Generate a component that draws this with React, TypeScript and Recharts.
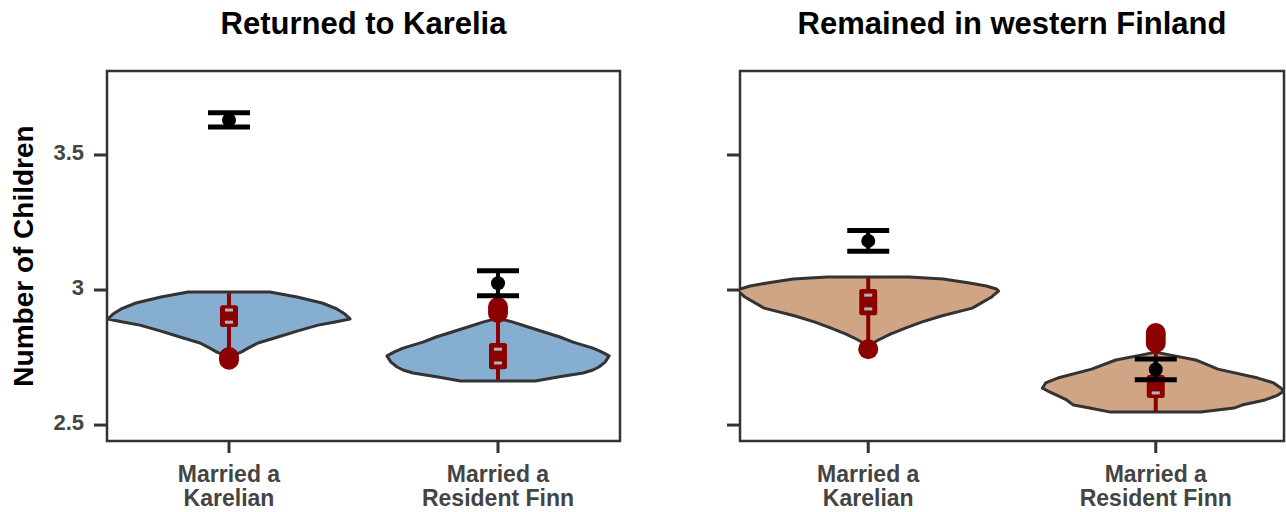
import React from 'react';
import { ComposedChart, Scatter, XAxis, YAxis, ReferenceArea } from 'recharts';

// ---------- data ----------
const categoryLabels: string[][] = [
  ['Married a', 'Karelian'],
  ['Married a', 'Resident Finn'],
];
const categoryPositions = [1, 2];
const yTicks = [2.5, 3, 3.5];
const yDomain: [number, number] = [2.441, 3.811];
const panelTitles = ['Returned to Karelia', 'Remained in western Finland'];
const yAxisTitle = 'Number of Children';

// violin outlines: [number of children, left half-width, right half-width (optional)] in category units
type Profile = number[][];
const violinReturnedKarelian: Profile = [
  [2.993, 0.152], [2.974, 0.253], [2.952, 0.346], [2.930, 0.401], [2.911, 0.431],
  [2.893, 0.45], [2.881, 0.39], [2.870, 0.331], [2.848, 0.253], [2.826, 0.182],
  [2.804, 0.108], [2.785, 0.071], [2.770, 0.045], [2.752, 0],
];
const violinReturnedFinn: Profile = [
  [2.896, 0], [2.881, 0.056], [2.863, 0.112], [2.826, 0.23], [2.807, 0.279],
  [2.785, 0.353], [2.770, 0.387], [2.756, 0.413], [2.733, 0.398], [2.715, 0.375],
  [2.704, 0.353], [2.693, 0.316], [2.678, 0.223], [2.663, 0.139],
];
const violinRemainedKarelian: Profile = [
  [3.048, 0.143], [3.041, 0.261], [3.026, 0.352], [3.015, 0.411], [3.004, 0.446],
  [2.996, 0.453], [2.981, 0.436], [2.974, 0.429], [2.933, 0.362], [2.904, 0.254],
  [2.881, 0.185], [2.859, 0.129], [2.837, 0.077], [2.815, 0.035], [2.793, 0],
];
const violinRemainedFinn: Profile = [
  [2.770, 0, 0], [2.759, 0.052, 0.052], [2.741, 0.139, 0.139], [2.707, 0.223, 0.216],
  [2.674, 0.341, 0.355], [2.656, 0.383, 0.41], [2.637, 0.394, 0.435], [2.626, 0.375, 0.446],
  [2.611, 0.345, 0.425], [2.593, 0.31, 0.38], [2.574, 0.286, 0.3], [2.563, 0.23, 0.272],
  [2.548, 0.157, 0.157],
];

// black: mean and standard error
const returnedMeans = [3.63, 3.025];
const returnedSE = [0.026, 0.046];
const remainedMeans = [3.182, 2.706];
const remainedSE = [0.038, 0.0385];

// red: whisker range, box range, box marks, points
const returnedWhiskers = [[2.75, 2.988], [2.667, 2.93]];
const returnedBoxes = [[2.863, 2.944], [2.707, 2.804]];
const returnedMarks = [[2.881, 2.926], [2.730, 2.781]];
const returnedDots = [[2.742, 2.752], [2.915, 2.926, 2.937]];

const remainedWhiskers = [[2.781, 3.045], [2.548, 2.8]];
const remainedBoxes = [[2.907, 3.004], [2.60, 2.685]];
const remainedMarks = [[2.930, 2.981], [2.619, 2.665]];
const remainedDots = [[2.781], [2.804, 2.815, 2.83, 2.841]];

// ---------- styles ----------
const FONT = '"Liberation Sans", Arial, Helvetica, sans-serif';
const BLUE = '#85aed0';
const TAN = '#cfa585';
const RED = '#8b0000';
const AXIS = '#333333';
const TICK_TEXT = '#444444';

function violinOutline(profile: Profile, center: number) {
  const right = profile.map((r) => ({ x: center + (r[2] ?? r[1]), y: r[0] }));
  const left = [...profile].reverse().map((r) => ({ x: center - r[1], y: r[0] }));
  return [...right, ...left];
}

function rangePairs(ranges: number[][]) {
  return categoryPositions.flatMap((x, i) => [
    { x, y: ranges[i][0] },
    { x, y: ranges[i][1] },
  ]);
}

const hiddenShape = () => <g />;

const validPoints = (props: any) =>
  (props.points || []).filter((p: any) => p && p.x != null && p.y != null);

const violinLine = (fill: string) => (props: any) => {
  const pts = validPoints(props);
  if (!pts.length) return <g />;
  const d = pts.map((p: any, i: number) => `${i ? 'L' : 'M'}${p.x},${p.y}`).join('') + 'Z';
  return <path d={d} fill={fill} stroke={AXIS} strokeWidth={3} strokeLinejoin="round" />;
};

const pairLine = (draw: (a: any, b: any, key: number) => React.ReactNode) => (props: any) => {
  const pts = props.points || [];
  const out: React.ReactNode[] = [];
  for (let i = 0; i + 1 < pts.length; i += 2) out.push(draw(pts[i], pts[i + 1], i));
  return <g>{out}</g>;
};

const whiskerLine = pairLine((a, b, k) => (
  <line key={k} x1={a.x} y1={a.y} x2={b.x} y2={b.y} stroke={RED} strokeWidth={4} />
));

const boxLine = pairLine((a, b, k) => (
  <rect
    key={k}
    x={a.x - 9}
    y={Math.min(a.y, b.y)}
    width={18}
    height={Math.abs(a.y - b.y)}
    rx={2.5}
    fill={RED}
  />
));

const meanBarLine = pairLine((a, b, k) => (
  <g key={k}>
    <line x1={a.x} y1={a.y} x2={b.x} y2={b.y} stroke="#000" strokeWidth={4} />
    <line x1={a.x - 21} y1={a.y} x2={a.x + 21} y2={a.y} stroke="#000" strokeWidth={5} />
    <line x1={b.x - 21} y1={b.y} x2={b.x + 21} y2={b.y} stroke="#000" strokeWidth={5} />
  </g>
));

const markShape = (p: any) => (
  <rect x={p.cx - 4} y={p.cy - 1.5} width={8} height={3} fill="#b4b4b4" />
);
const redDot = (p: any) => <circle cx={p.cx} cy={p.cy} r={10} fill={RED} />;
const blackDot = (p: any) => <circle cx={p.cx} cy={p.cy} r={7} fill="#000" />;

const renderXTick = (p: any) => {
  const lines = categoryLabels[Math.round(p.payload.value) - 1] || [];
  return (
    <text x={p.x} y={p.y} textAnchor="middle" fill={TICK_TEXT} fontSize={23} fontWeight="bold" fontFamily={FONT}>
      {lines.map((l, i) => (
        <tspan key={i} x={p.x} dy={i === 0 ? 27 : 24}>{l}</tspan>
      ))}
    </text>
  );
};

type PanelProps = {
  left: number;
  width: number;
  yAxisWidth: number;
  rightMargin: number;
  xPad: number;
  showLabels: boolean;
  profiles: Profile[];
  fill: string;
  means: number[];
  ses: number[];
  whiskers: number[][];
  boxes: number[][];
  marks: number[][];
  dots: number[][];
};

function Panel(props: PanelProps) {
  const { left, width, yAxisWidth, rightMargin, xPad, showLabels, profiles, fill, means, ses, whiskers, boxes, marks, dots } = props;
  const xDomain: [number, number] = [1 - xPad, 2 + xPad];
  const meanBars = rangePairs(means.map((m, i) => [m - ses[i], m + ses[i]]));
  const meanData = categoryPositions.map((x, i) => ({ x, y: means[i] }));
  const whiskerData = rangePairs(whiskers);
  const boxData = rangePairs(boxes);
  const markData = categoryPositions.flatMap((x, i) => marks[i].map((y) => ({ x, y })));
  const dotData = categoryPositions.flatMap((x, i) => dots[i].map((y) => ({ x, y })));

  return (
    <div style={{ position: 'absolute', left, top: 0 }}>
      <ComposedChart width={width} height={512} margin={{ top: 71, right: rightMargin, bottom: 0, left: 0 }}>
        <XAxis
          type="number"
          dataKey="x"
          domain={xDomain}
          ticks={categoryPositions}
          allowDataOverflow
          height={71}
          axisLine={false}
          tickLine={{ stroke: AXIS, strokeWidth: 3 }}
          tickSize={12}
          interval={0}
          tick={renderXTick}
        />
        <YAxis
          type="number"
          dataKey="y"
          domain={yDomain}
          ticks={yTicks}
          allowDataOverflow
          width={yAxisWidth}
          axisLine={false}
          tickLine={{ stroke: AXIS, strokeWidth: 3 }}
          tickSize={13}
          tickMargin={10}
          interval={0}
          tick={showLabels ? { fill: TICK_TEXT, fontSize: 22, fontWeight: 'bold', fontFamily: FONT, dy: -3 } : hiddenShape}
          label={
            showLabels
              ? {
                  value: yAxisTitle,
                  angle: -90,
                  position: 'insideLeft',
                  offset: 23,
                  style: { textAnchor: 'middle' },
                  fill: '#000',
                  fontSize: 28,
                  fontWeight: 'bold',
                  fontFamily: FONT,
                }
              : undefined
          }
        />
        {profiles.map((p, i) => (
          <Scatter
            key={`v${i}`}
            data={violinOutline(p, categoryPositions[i])}
            shape={hiddenShape}
            line={violinLine(fill)}
            lineType="joint"
            isAnimationActive={false}
          />
        ))}
        <Scatter data={whiskerData} shape={hiddenShape} line={whiskerLine} lineType="joint" isAnimationActive={false} />
        <Scatter data={boxData} shape={hiddenShape} line={boxLine} lineType="joint" isAnimationActive={false} />
        <Scatter data={markData} shape={markShape} isAnimationActive={false} />
        <Scatter data={dotData} shape={redDot} isAnimationActive={false} />
        <Scatter data={meanBars} shape={hiddenShape} line={meanBarLine} lineType="joint" isAnimationActive={false} />
        <Scatter data={meanData} shape={blackDot} isAnimationActive={false} />
        <ReferenceArea
          x1={xDomain[0]}
          x2={xDomain[1]}
          y1={yDomain[0]}
          y2={yDomain[1]}
          fill="none"
          fillOpacity={0}
          stroke={AXIS}
          strokeWidth={2.5}
        />
      </ComposedChart>
    </div>
  );
}

const titleStyle = (left: number, width: number): React.CSSProperties => ({
  position: 'absolute',
  left,
  width,
  top: 8,
  textAlign: 'center',
  fontFamily: FONT,
  fontWeight: 'bold',
  fontSize: 31,
  lineHeight: '31px',
  color: '#000',
  whiteSpace: 'nowrap',
});

export default function App() {
  return (
    <div style={{ position: 'absolute', left: 0, top: 0, width: 1286, height: 512, background: '#fff', overflow: 'hidden' }}>
      <div style={titleStyle(107, 513)}>{panelTitles[0]}</div>
      <div style={titleStyle(740, 544)}>{panelTitles[1]}</div>
      <Panel
        left={0}
        width={630}
        yAxisWidth={107}
        rightMargin={10}
        xPad={0.4535}
        showLabels
        profiles={[violinReturnedKarelian, violinReturnedFinn]}
        fill={BLUE}
        means={returnedMeans}
        ses={returnedSE}
        whiskers={returnedWhiskers}
        boxes={returnedBoxes}
        marks={returnedMarks}
        dots={returnedDots}
      />
      <Panel
        left={640}
        width={646}
        yAxisWidth={100}
        rightMargin={2}
        xPad={0.446}
        showLabels={false}
        profiles={[violinRemainedKarelian, violinRemainedFinn]}
        fill={TAN}
        means={remainedMeans}
        ses={remainedSE}
        whiskers={remainedWhiskers}
        boxes={remainedBoxes}
        marks={remainedMarks}
        dots={remainedDots}
      />
    </div>
  );
}
